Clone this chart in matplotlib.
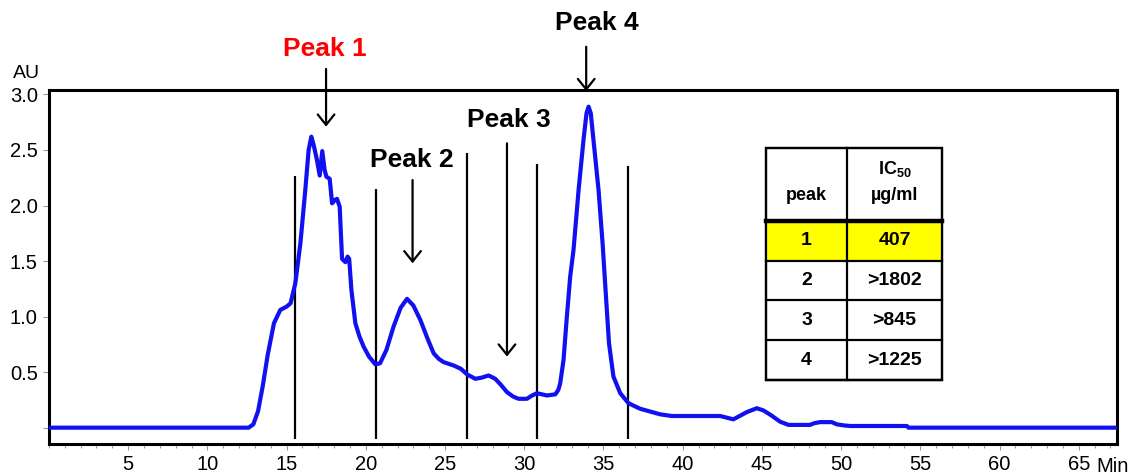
import matplotlib
matplotlib.use("Agg")
import matplotlib.pyplot as plt
from matplotlib.patches import Rectangle

plt.rcParams['font.family'] = ['Liberation Sans', 'DejaVu Sans']
plt.rcParams['mathtext.fontset'] = 'custom'
plt.rcParams['mathtext.rm'] = 'Liberation Sans:bold'
plt.rcParams['mathtext.bf'] = 'Liberation Sans:bold'

# chromatogram trace (minutes, AU)
time_min = [0, 12.6, 12.9, 13.2, 13.5, 13.8, 14.2, 14.6, 15.0, 15.25, 15.55, 15.87,
            16.18, 16.39, 16.56, 16.7, 16.9, 17.09, 17.25, 17.4, 17.51, 17.72, 17.87,
            18.05, 18.18, 18.35, 18.5, 18.71, 18.85, 18.95, 19.09, 19.34, 19.6, 19.86,
            20.2, 20.6, 20.9, 21.3, 21.75, 22.2, 22.6, 23.0, 23.44, 23.9, 24.28, 24.6,
            24.91, 25.54, 26.0, 26.39, 26.91, 27.3, 27.75, 28.17, 28.5, 28.91, 29.3,
            29.64, 30.17, 30.5, 30.8, 31.43, 31.96, 32.15, 32.27, 32.48, 32.69, 32.9,
            33.11, 33.43, 33.74, 33.93, 34.06, 34.2, 34.37, 34.69, 34.95, 35.15, 35.35,
            35.63, 36.06, 36.58, 37.32, 37.95, 38.58, 39.32, 42.37, 43.2, 44.05, 44.68,
            45.1, 45.6, 46.15, 46.68, 48.04, 48.3, 48.67, 49.41, 49.73, 50.2, 50.57,
            54.15, 54.25, 67.4]
absorbance = [0, 0, 0.03, 0.15, 0.38, 0.65, 0.94, 1.06, 1.09, 1.12, 1.30, 1.66,
              2.14, 2.50, 2.62, 2.55, 2.42, 2.27, 2.49, 2.32, 2.26, 2.24, 2.02,
              2.05, 2.06, 1.99, 1.52, 1.49, 1.54, 1.52, 1.24, 0.94, 0.82, 0.73,
              0.64, 0.57, 0.58, 0.70, 0.91, 1.08, 1.16, 1.10, 0.97, 0.80, 0.67, 0.62,
              0.59, 0.56, 0.53, 0.48, 0.44, 0.45, 0.47, 0.44, 0.39, 0.32, 0.28,
              0.26, 0.26, 0.29, 0.31, 0.29, 0.30, 0.34, 0.40, 0.61, 1.00, 1.36,
              1.60, 2.14, 2.59, 2.83, 2.89, 2.83, 2.59, 2.14, 1.65, 1.20, 0.76,
              0.46, 0.31, 0.22, 0.17, 0.145, 0.12, 0.105, 0.105, 0.075, 0.14, 0.175,
              0.155, 0.11, 0.054, 0.025, 0.025, 0.04, 0.05, 0.05, 0.03, 0.02, 0.015,
              0.015, 0.0, 0.0]

# fraction cut lines
cut_times = [15.55, 20.66, 26.36, 30.81, 36.54]
cut_tops = [2.27, 2.15, 2.47, 2.37, 2.36]
cut_bottom = -0.10

# peak labels: name, colour, text position, arrow x, arrow top, arrow tip
peak_names = ['Peak 1', 'Peak 2', 'Peak 3', 'Peak 4']
peak_colors = ['#ff0000', 'black', 'black', 'black']
peak_text_x = [17.4, 22.9, 29.0, 34.6]
peak_text_y = [3.41, 2.41, 2.77, 3.64]
arrow_x = [17.49, 22.95, 28.91, 33.91]
arrow_top = [3.23, 2.23, 2.56, 3.43]
arrow_tip = [2.71, 1.48, 0.64, 3.03]

# table
table_peaks = ['1', '2', '3', '4']
table_ic50 = ['407', '>1802', '>845', '>1225']
highlight_row = 0

fig = plt.figure(figsize=(11.31, 4.74), dpi=100)
ax = fig.add_axes([0.0433, 0.0633, 0.9441, 0.7468])

ax.plot(time_min, absorbance, color='#1010f0', lw=3.0, solid_joinstyle='round', zorder=3)
ax.vlines(cut_times, cut_bottom, cut_tops, color='black', lw=1.6, zorder=2)

for name, col, tx, ty, axx, atop, atip in zip(peak_names, peak_colors, peak_text_x,
                                              peak_text_y, arrow_x, arrow_top, arrow_tip):
    ax.text(tx, ty, name, color=col, fontsize=19, fontweight='bold',
            ha='center', va='center', clip_on=False)
    ax.annotate('', xy=(axx, atip), xytext=(axx, atop), annotation_clip=False,
                arrowprops=dict(arrowstyle='->,head_length=0.5,head_width=0.4',
                                mutation_scale=15, lw=1.6, color='black',
                                shrinkA=0, shrinkB=0))

ax.set_xlim(0, 67.4)
ax.set_ylim(-0.147, 3.04)
ax.set_xticks(range(5, 66, 5))
ax.set_xticks(range(0, 68), minor=True)
yt = [0, 0.5, 1.0, 1.5, 2.0, 2.5, 3.0]
ax.set_yticks(yt)
ax.set_yticklabels([''] + [f'{v:.1f}' for v in yt[1:]])
ax.tick_params(axis='both', which='both', direction='out', color='#999999',
               width=0.8, labelsize=14.5, labelcolor='black')
ax.tick_params(axis='both', which='major', length=4, pad=4)
ax.tick_params(axis='x', which='minor', length=3)
for s in ax.spines.values():
    s.set_linewidth(2.2)
    s.set_color('black')

fig.text(1129 / 1131, 1 - 466 / 474, 'Min', fontsize=14.5, ha='right', va='center')
fig.text(26 / 1131, 1 - 73 / 474, 'AU', fontsize=14, ha='center', va='center')

# IC50 table in axes fraction
tx0, tx1, tmid = 0.6715, 0.8361, 0.7477
ty_top, ty_head = 0.8353, 0.6308
ty_bot = 0.1808
row_h = (ty_head - ty_bot) / len(table_peaks)
tr = ax.transAxes
ax.add_patch(Rectangle((tx0, ty_bot), tx1 - tx0, ty_top - ty_bot, transform=tr,
                       facecolor='white', edgecolor='black', lw=1.6, zorder=4))
for i, (p, v) in enumerate(zip(table_peaks, table_ic50)):
    y0 = ty_head - (i + 1) * row_h
    if i == highlight_row:
        ax.add_patch(Rectangle((tx0, y0), tx1 - tx0, row_h, transform=tr,
                               facecolor='#ffff00', edgecolor='none', zorder=4))
    ax.plot([tx0, tx1], [y0, y0], transform=tr, color='black', lw=1.6, zorder=5)
    ax.text((tx0 + tmid) / 2, y0 + row_h / 2, p, transform=tr, fontsize=14,
            fontweight='bold', ha='center', va='center', zorder=6)
    ax.text((tmid + tx1) / 2, y0 + row_h / 2, v, transform=tr, fontsize=14,
            fontweight='bold', ha='center', va='center', zorder=6)
ax.plot([tx0, tx1], [ty_head, ty_head], transform=tr, color='black', lw=3.2, zorder=5)
ax.plot([tmid, tmid], [ty_bot, ty_top], transform=tr, color='black', lw=1.6, zorder=5)
ax.add_patch(Rectangle((tx0, ty_bot), tx1 - tx0, ty_top - ty_bot, transform=tr,
                       facecolor='none', edgecolor='black', lw=1.6, zorder=6))
head_mid = (ty_top + ty_head) / 2
ax.text((tx0 + tmid) / 2, head_mid - 0.03, 'peak', transform=tr, fontsize=13,
        fontweight='bold', ha='center', va='center', zorder=6)
ax.text((tmid + tx1) / 2, head_mid + 0.045, 'IC$_{50}$', transform=tr, fontsize=13,
        fontweight='bold', ha='center', va='center', zorder=6)
ax.text((tmid + tx1) / 2, head_mid - 0.03, 'µg/ml', transform=tr, fontsize=13,
        fontweight='bold', ha='center', va='center', zorder=6)

fig.savefig('out.png', dpi=100)
